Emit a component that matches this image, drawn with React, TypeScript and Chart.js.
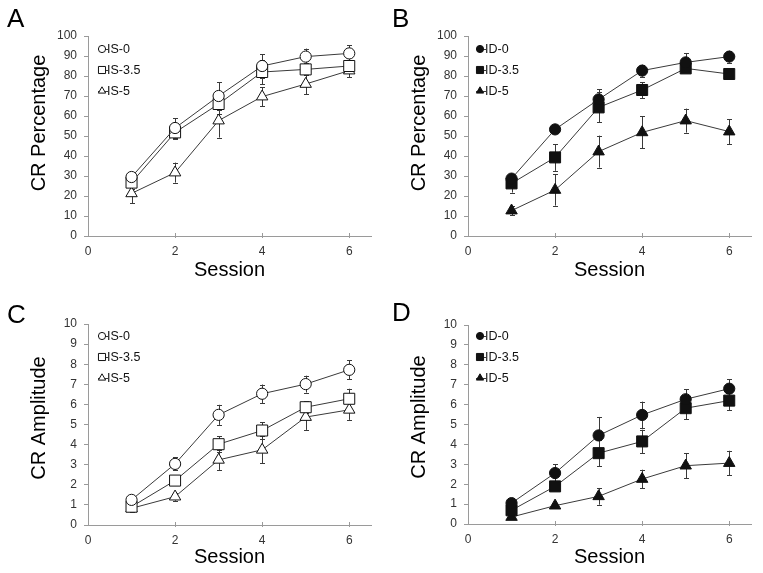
import React, { useEffect, useRef } from 'react';
import { Chart, registerables } from 'chart.js';

Chart.register(...registerables);

// ---------- data ----------
const sessions = [1, 2, 3, 4, 5, 6];
const sessionTicks = [0, 2, 4, 6];
const isNames = ['IS-0', 'IS-3.5', 'IS-5'];
const idNames = ['ID-0', 'ID-3.5', 'ID-5'];

// Panel A: CR Percentage, IS groups
const pctIS0 = [29.5, 54, 70, 85, 89.7, 91.3];
const pctIS0Err = [2, 5, 7, 6, 4, 4];
const pctIS35 = [26.7, 51.8, 66, 82, 83.3, 85];
const pctIS35Err = [3, 3.5, 5, 6, 3, 3];
const pctIS5 = [21.3, 31.7, 57.7, 69.7, 76, 82.7];
const pctIS5Err = [5, 5, 8.5, 4.7, 5, 3.4];

// Panel B: CR Percentage, ID groups
const pctID0 = [28.7, 53.3, 68.3, 82.7, 86.8, 89.7];
const pctID0Err = [2, 2, 5, 3, 4.5, 3];
const pctID35 = [26.3, 39.3, 64.3, 73, 83.8, 81];
const pctID35Err = [4.6, 6.7, 7.5, 4, 2, 1.5];
const pctID5 = [12.7, 23, 42.2, 51.8, 57.7, 52.2];
const pctID5Err = [2.3, 7.8, 8, 8, 6, 6.3];

// Panel C: CR Amplitude, IS groups
const ampIS0 = [1.25, 3.04, 5.48, 6.53, 7.01, 7.72];
const ampIS0Err = [0.2, 0.32, 0.5, 0.46, 0.42, 0.48];
const ampIS35 = [0.91, 2.21, 4.02, 4.7, 5.86, 6.28];
const ampIS35Err = [0.2, 0.2, 0.4, 0.4, 0.3, 0.5];
const ampIS5 = [0.83, 1.41, 3.24, 3.74, 5.37, 5.73];
const ampIS5Err = [0.2, 0.2, 0.5, 0.67, 0.64, 0.5];

// Panel D: CR Amplitude, ID groups
const ampID0 = [1.05, 2.56, 4.45, 5.48, 6.27, 6.8];
const ampID0Err = [0.1, 0.45, 0.93, 0.67, 0.5, 0.47];
const ampID35 = [0.69, 1.89, 3.56, 4.15, 5.82, 6.2];
const ampID35Err = [0.15, 0.2, 0.67, 0.59, 0.55, 0.47];
const ampID5 = [0.35, 0.92, 1.39, 2.26, 2.93, 3.06];
const ampID5Err = [0.1, 0.1, 0.42, 0.47, 0.63, 0.62];

// ---------- styling ----------
const FONT = '"Liberation Sans", Arial, Helvetica, sans-serif';
const AXIS_COLOR = '#9a9a9a';
const LINE_COLOR = '#3a3a3a';
const MARK_COLOR = '#111111';
const shapes = ['circle', 'rect', 'triangle'];
const radii: Record<string, number> = { circle: 5.6, rect: 7.8, triangle: 6.6 };
const legendRadii: Record<string, number> = { circle: 3.6, rect: 5, triangle: 4.2 };

type Panel = {
  letter: string;
  left: number;
  top: number;
  width: number;
  areaTop: number;
  areaBottom: number;
  yMax: number;
  yStep: number;
  yTitle: string;
  yTitleCenter: number;
  letterX: number;
  letterY: number;
  names: string[];
  values: number[][];
  errors: number[][];
  filled: boolean;
  legendX: number;
};

const HEIGHT = 286;
const AREA_LEFT = 88;
const AREA_RIGHT = 371;

const panels: Panel[] = [
  {
    letter: 'A', left: 0, top: 0, width: 380, areaTop: 36, areaBottom: 236,
    yMax: 100, yStep: 10, yTitle: 'CR Percentage', yTitleCenter: 123,
    letterX: 7, letterY: 27, names: isNames,
    values: [pctIS0, pctIS35, pctIS5], errors: [pctIS0Err, pctIS35Err, pctIS5Err],
    filled: false, legendX: 102,
  },
  {
    letter: 'B', left: 380, top: 0, width: 383, areaTop: 36, areaBottom: 236,
    yMax: 100, yStep: 10, yTitle: 'CR Percentage', yTitleCenter: 123,
    letterX: 12, letterY: 27, names: idNames,
    values: [pctID0, pctID35, pctID5], errors: [pctID0Err, pctID35Err, pctID5Err],
    filled: true, legendX: 100,
  },
  {
    letter: 'C', left: 0, top: 287, width: 380, areaTop: 37, areaBottom: 238,
    yMax: 10, yStep: 1, yTitle: 'CR Amplitude', yTitleCenter: 131,
    letterX: 7, letterY: 36, names: isNames,
    values: [ampIS0, ampIS35, ampIS5], errors: [ampIS0Err, ampIS35Err, ampIS5Err],
    filled: false, legendX: 102,
  },
  {
    letter: 'D', left: 380, top: 287, width: 383, areaTop: 38, areaBottom: 237,
    yMax: 10, yStep: 1, yTitle: 'CR Amplitude', yTitleCenter: 130,
    letterX: 12, letterY: 34, names: idNames,
    values: [ampID0, ampID35, ampID5], errors: [ampID0Err, ampID35Err, ampID5Err],
    filled: true, legendX: 100,
  },
];

const legendRows = [49, 70, 91];

function drawMarker(ctx: CanvasRenderingContext2D, shape: string, x: number, y: number, r: number, filled: boolean) {
  ctx.save();
  ctx.beginPath();
  if (shape === 'circle') {
    ctx.arc(x, y, r, 0, Math.PI * 2);
  } else if (shape === 'rect') {
    const s = Math.SQRT1_2 * r;
    ctx.rect(x - s, y - s, 2 * s, 2 * s);
  } else {
    const a = Math.PI / 2;
    ctx.moveTo(x, y - r);
    ctx.lineTo(x + r * Math.sin(a * 4 / 3 * 1), y + r * 0.5);
    ctx.lineTo(x - r * Math.sin(a * 4 / 3 * 1), y + r * 0.5);
    ctx.closePath();
  }
  ctx.fillStyle = filled ? MARK_COLOR : '#ffffff';
  ctx.fill();
  ctx.lineWidth = 1;
  ctx.strokeStyle = MARK_COLOR;
  ctx.stroke();
  ctx.restore();
}

function makePlugin(p: Panel) {
  return {
    id: 'panelDecor' + p.letter,
    beforeDatasetsDraw(chart: any) {
      const ctx: CanvasRenderingContext2D = chart.ctx;
      const ys = chart.scales.y;
      ctx.save();
      ctx.strokeStyle = LINE_COLOR;
      ctx.lineWidth = 1;
      p.values.forEach((_vals, di) => {
        const meta = chart.getDatasetMeta(di);
        meta.data.forEach((el: any, i: number) => {
          const v = p.values[di][i];
          const e = p.errors[di][i];
          const x = Math.round(el.x) + 0.5;
          const y1 = ys.getPixelForValue(v + e);
          const y2 = ys.getPixelForValue(v - e);
          ctx.beginPath();
          ctx.moveTo(x, y1);
          ctx.lineTo(x, y2);
          ctx.moveTo(x - 2.5, Math.round(y1) + 0.5);
          ctx.lineTo(x + 2.5, Math.round(y1) + 0.5);
          ctx.moveTo(x - 2.5, Math.round(y2) + 0.5);
          ctx.lineTo(x + 2.5, Math.round(y2) + 0.5);
          ctx.stroke();
        });
      });
      ctx.restore();
    },
    afterDraw(chart: any) {
      const ctx: CanvasRenderingContext2D = chart.ctx;
      const xs = chart.scales.x;
      const area = chart.chartArea;
      ctx.save();
      // x tick marks
      ctx.strokeStyle = AXIS_COLOR;
      ctx.lineWidth = 1;
      sessionTicks.slice(1).forEach((v) => {
        const x = Math.round(xs.getPixelForValue(v)) + 0.5;
        ctx.beginPath();
        ctx.moveTo(x, area.bottom - 3);
        ctx.lineTo(x, area.bottom + 2);
        ctx.stroke();
      });
      // panel letter
      ctx.fillStyle = '#000';
      ctx.font = `26px ${FONT}`;
      ctx.textAlign = 'left';
      ctx.textBaseline = 'alphabetic';
      ctx.fillText(p.letter, p.letterX, p.letterY);
      // y title
      ctx.save();
      ctx.translate(45, p.yTitleCenter);
      ctx.rotate(-Math.PI / 2);
      ctx.font = `20px ${FONT}`;
      ctx.textAlign = 'center';
      ctx.textBaseline = 'alphabetic';
      ctx.fillStyle = '#000';
      ctx.fillText(p.yTitle, 0, 0);
      ctx.restore();
      // legend
      p.names.forEach((name, i) => {
        const y = legendRows[i];
        const mx = p.legendX;
        ctx.strokeStyle = LINE_COLOR;
        ctx.lineWidth = 1;
        ctx.beginPath();
        ctx.moveTo(mx - 4, y + 0.5);
        ctx.lineTo(mx + 6, y + 0.5);
        ctx.stroke();
        drawMarker(ctx, shapes[i], mx, y, legendRadii[shapes[i]], p.filled);
        ctx.fillStyle = '#111';
        ctx.font = `12.5px ${FONT}`;
        ctx.textAlign = 'left';
        ctx.textBaseline = 'middle';
        ctx.fillText(name, mx + 5, y + 1);
      });
      ctx.restore();
    },
  };
}

function PanelChart({ p }: { p: Panel }) {
  const ref = useRef<HTMLCanvasElement | null>(null);
  useEffect(() => {
    if (!ref.current) return;
    const datasets = p.names.map((name, i) => ({
      label: name,
      data: sessions.map((s, j) => ({ x: s, y: p.values[i][j] })),
      borderColor: LINE_COLOR,
      borderWidth: 1,
      pointStyle: shapes[i] as any,
      pointRadius: radii[shapes[i]],
      pointHoverRadius: radii[shapes[i]],
      pointBackgroundColor: p.filled ? MARK_COLOR : '#ffffff',
      pointBorderColor: MARK_COLOR,
      pointBorderWidth: 1,
      fill: false,
      tension: 0,
    }));
    const chart = new Chart(ref.current, {
      type: 'line',
      data: { datasets },
      options: {
        animation: false,
        responsive: false,
        maintainAspectRatio: false,
        layout: { padding: { left: 0, right: p.width - AREA_RIGHT, top: p.areaTop, bottom: 0 } },
        plugins: { legend: { display: false }, tooltip: { enabled: false }, title: { display: false } },
        scales: {
          x: {
            type: 'linear',
            min: 0,
            max: 6.5,
            afterBuildTicks: (s: any) => { s.ticks = sessionTicks.map((v) => ({ value: v })); },
            afterFit: (s: any) => { s.height = HEIGHT - p.areaBottom; },
            grid: { display: false, drawTicks: false },
            border: { display: true, color: AXIS_COLOR, width: 1 },
            ticks: { padding: 8, color: '#333', font: { family: FONT, size: 12 }, maxRotation: 0, autoSkip: false },
            title: { display: true, text: 'Session', color: '#000', font: { family: FONT, size: 20 }, padding: { top: 0, bottom: 4 } },
          },
          y: {
            type: 'linear',
            min: 0,
            max: p.yMax,
            ticks: { stepSize: p.yStep, padding: 7, color: '#333', font: { family: FONT, size: 12 } },
            afterFit: (s: any) => { s.width = AREA_LEFT; },
            grid: { display: true, drawOnChartArea: false, drawTicks: true, tickLength: 4, color: AXIS_COLOR },
            border: { display: true, color: AXIS_COLOR, width: 1 },
          },
        },
      },
      plugins: [makePlugin(p)],
    });
    return () => chart.destroy();
  }, [p]);
  return (
    <div style={{ position: 'absolute', left: p.left, top: p.top, width: p.width, height: HEIGHT }}>
      <canvas ref={ref} width={p.width} height={HEIGHT} style={{ width: p.width, height: HEIGHT, display: 'block' }} />
    </div>
  );
}

export default function App() {
  return (
    <div style={{ position: 'absolute', left: 0, top: 0, width: 763, height: 573, background: '#fff', overflow: 'hidden' }}>
      {panels.map((p) => (
        <PanelChart key={p.letter} p={p} />
      ))}
    </div>
  );
}
